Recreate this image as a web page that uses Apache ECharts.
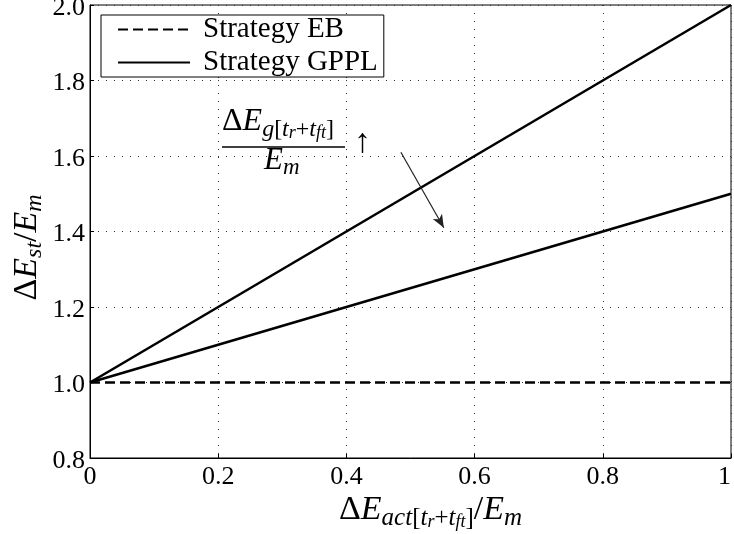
<!DOCTYPE html>
<html>
<head>
<meta charset="utf-8">
<script src="https://cdn.jsdelivr.net/npm/echarts@6/dist/echarts.min.js"></script>
<style>
  html, body { margin: 0; padding: 0; background: #fff; }
  #chart { width: 734px; height: 534px; }
</style>
</head>
<body>
<div id="chart"></div>
<script>
// data
var xValues = [0, 1];
var ebValues = [1.0, 1.0];
var gpplHigh = [1.0, 2.0];
var gpplLow = [1.0, 1.5];
var xTicks = [0, 0.2, 0.4, 0.6, 0.8, 1];
var yTicks = [0.8, 1.0, 1.2, 1.4, 1.6, 1.8, 2.0];
// arrow showing direction of increasing ΔE_g/E_m
var arrowFrom = [0.485, 1.61];
var arrowTo = [0.552, 1.41];

var serif = '"Liberation Serif", "DejaVu Serif", serif';

function pairs(xs, ys) {
  return xs.map(function (x, i) { return [x, ys[i]]; });
}

function mathStyles(main, sub, subsub) {
  return {
    m: { fontFamily: serif, fontStyle: 'italic', fontSize: main, color: '#000' },
    u: { fontFamily: serif, fontSize: main, color: '#000' },
    s: { fontFamily: serif, fontStyle: 'italic', fontSize: sub, color: '#000', verticalAlign: 'bottom', padding: [Math.round(main * 0.45), 0, 0, 0] },
    ss: { fontFamily: serif, fontStyle: 'italic', fontSize: subsub, color: '#000', verticalAlign: 'bottom', padding: [Math.round(main * 0.7), 0, 0, 0] },
    sn: { fontFamily: serif, fontSize: sub, color: '#000', verticalAlign: 'bottom', padding: [Math.round(main * 0.45), 0, 0, 0] }
  };
}

var chart = echarts.init(document.getElementById('chart'));

var option = {
  animation: false,
  grid: {
    left: 90, right: 3, top: 5, bottom: 76,
    outerBoundsMode: 'none',
    containLabel: false,
    show: true, borderColor: '#000', borderWidth: 1
  },
  legend: {
    left: 101, top: 15,
    orient: 'vertical',
    itemWidth: 72, itemHeight: 14, itemGap: 4,
    padding: [0, 6, 0, 16],
    borderColor: '#000', borderWidth: 1,
    backgroundColor: '#fff',
    itemStyle: { opacity: 0 },
    textStyle: { fontFamily: serif, fontSize: 29, lineHeight: 29, color: '#000', padding: [0, 0, 0, 8] },
    data: ['Strategy EB', 'Strategy GPPL']
  },
  xAxis: {
    type: 'value', min: 0, max: 1, interval: 0.2,
    name: '{u|Δ}{m|E}{s|act}{sn|[}{s|t}{ss|r}{sn|+}{s|t}{ss|ft}{sn|]}{u|/}{m|E}{s|m}',
    nameLocation: 'middle', nameGap: 31, nameMoveOverlap: false,
    nameTextStyle: { rich: mathStyles(34, 25, 18), padding: [0, 0, 0, 40] },
    axisLine: { show: true, onZero: false, lineStyle: { color: '#000', width: 1 } },
    axisTick: { show: true, inside: true, length: 4, lineStyle: { color: '#000' } },
    axisLabel: {
      fontFamily: serif, fontSize: 26, color: '#000', margin: 6,
      alignMaxLabel: 'right',
      formatter: function (v) { return (v === 0 || v === 1) ? String(v) : v.toFixed(1); }
    },
    splitLine: { show: true, lineStyle: { color: '#333', type: [1, 7], width: 1 } }
  },
  yAxis: {
    type: 'value', min: 0.8, max: 2.0, interval: 0.2,
    name: '{u|Δ}{m|E}{s|st}{u|/}{m|E}{s|m}',
    nameLocation: 'middle', nameGap: 43, nameRotate: 90, nameMoveOverlap: false,
    nameTextStyle: { rich: mathStyles(34, 24, 18), padding: [0, 32, 0, 0] },
    axisLine: { show: true, onZero: false, lineStyle: { color: '#000', width: 1 } },
    axisTick: { show: true, inside: true, length: 4, lineStyle: { color: '#000' } },
    axisLabel: {
      color: '#000', margin: 5,
      formatter: function (v) { return '{v|' + v.toFixed(1) + '}'; },
      rich: { v: { fontFamily: serif, fontSize: 26, color: '#000', padding: [6, 0, 0, 0] } }
    },
    splitLine: { show: true, lineStyle: { color: '#333', type: [1, 7], width: 1 } }
  },
  series: [
    {
      name: 'Strategy EB', type: 'line', symbol: 'none',
      data: pairs(xValues, ebValues),
      lineStyle: { color: '#000', width: 2.6, type: [10, 5] },
      itemStyle: { color: '#000' },
      z: 3
    },
    {
      name: 'Strategy GPPL', type: 'line', symbol: 'none',
      data: pairs(xValues, gpplHigh),
      lineStyle: { color: '#000', width: 2.6 },
      itemStyle: { color: '#000' },
      z: 3
    },
    {
      name: 'Strategy GPPL', type: 'line', symbol: 'none',
      data: pairs(xValues, gpplLow),
      lineStyle: { color: '#000', width: 2.6 },
      itemStyle: { color: '#000' },
      z: 3,
      markLine: {
        silent: true,
        symbol: ['none', 'arrow'],
        symbolSize: [8, 13],
        label: { show: false },
        lineStyle: { color: '#222', width: 1.2, type: 'solid' },
        data: [[{ coord: arrowFrom }, { coord: arrowTo }]]
      }
    }
  ],
  graphic: [
    {
      type: 'text', left: 222, top: 106, z: 10,
      style: {
        text: '{u|Δ}{m|E}{s|g}{sn|[}{s|t}{ss|r}{sn|+}{s|t}{ss|ft}{sn|]}',
        rich: mathStyles(32, 24, 18)
      }
    },
    {
      type: 'line', z: 10,
      shape: { x1: 222, y1: 147, x2: 345, y2: 147 },
      style: { stroke: '#000', lineWidth: 1.5 }
    },
    {
      type: 'text', left: 264, top: 145, z: 10,
      style: {
        text: '{m|E}{s|m}',
        rich: mathStyles(31, 23, 17)
      }
    },
    {
      type: 'text', left: 354, top: 126, z: 10,
      style: { text: '↑', fontFamily: serif, fontSize: 34, fill: '#000' }
    }
  ]
};

chart.setOption(option);
</script>
</body>
</html>
